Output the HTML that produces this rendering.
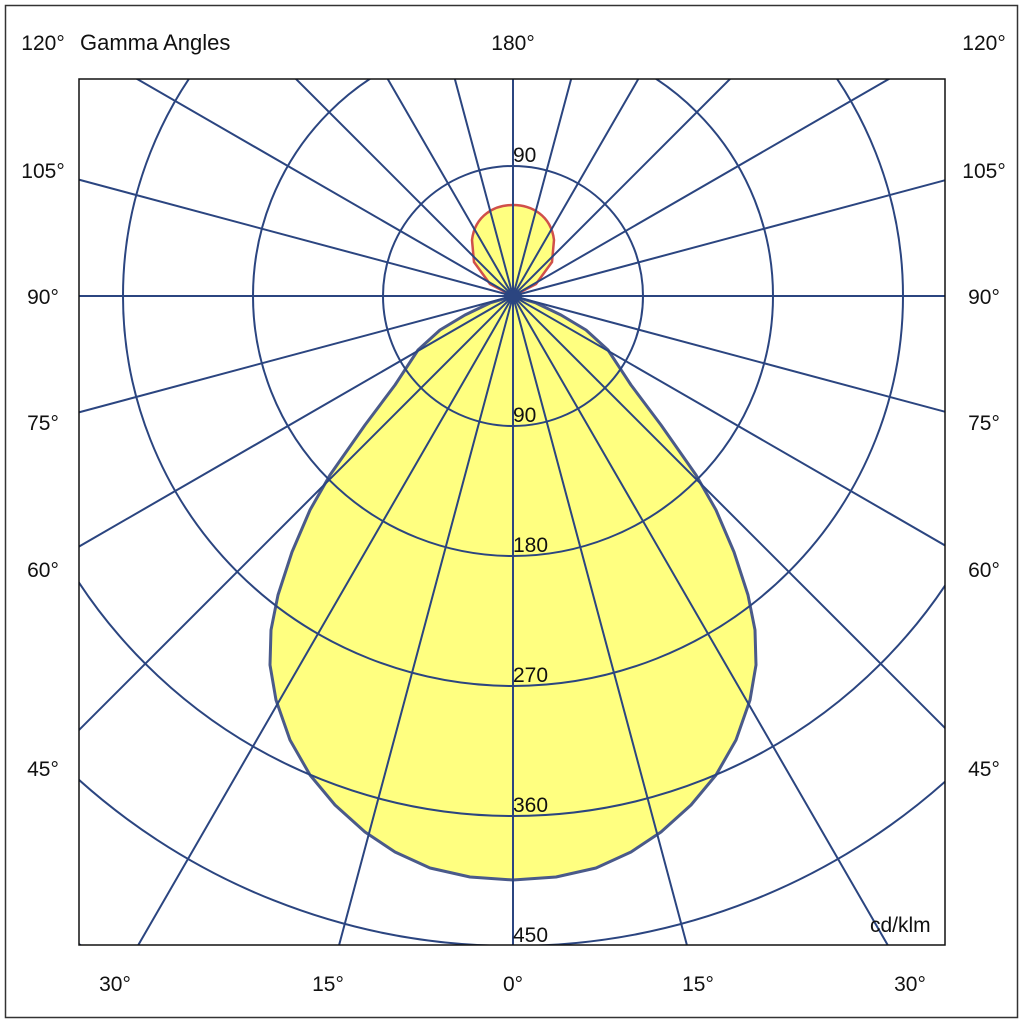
<!DOCTYPE html><html><head><style>html,body{margin:0;background:#fff;overflow:hidden;width:1024px;height:1024px}svg{display:block;overflow:hidden}text{font-family:"Liberation Sans",sans-serif;font-size:21px;fill:#111}</style></head><body>
<svg width="1024" height="1024" viewBox="0 0 1024 1024">
<rect x="0" y="0" width="1024" height="1024" fill="#fff"/>
<rect x="5.5" y="5.5" width="1012" height="1012" fill="none" stroke="#333" stroke-width="1.5"/>
<defs><clipPath id="c"><rect x="79" y="79" width="866" height="866"/></clipPath></defs>
<g clip-path="url(#c)">
<rect x="79" y="79" width="866" height="866" fill="#fff"/>
<path d="M513,296 L490,303 L465,315 L440,330 L418,350 L395,385 L365,425 L330,475 L310,510 L292,552 L278,595 L271,630 L270,665 L276,700 L290,740 L310,775 L335,805 L365,832 L395,852 L430,868 L470,877 L513,880 L556,877 L596,868 L631,852 L661,832 L691,805 L716,775 L736,740 L750,700 L756,665 L755,630 L748,595 L734,552 L716,510 L696,475 L661,425 L631,385 L608,350 L586,330 L561,315 L536,303 Z" fill="#ffff80" stroke="#4a5a8a" stroke-width="3" stroke-linejoin="round"/>
<path d="M513,296 L490,284 L474,262 L472,240 C475,215 495,205 513,205 C531,205 551,215 554,240 L552,262 L536,284 Z" fill="#ffff80" stroke="#d0504a" stroke-width="2.5"/>
<g fill="none" stroke="#2b4580" stroke-width="2">
<circle cx="513" cy="296" r="130"/><circle cx="513" cy="296" r="260"/><circle cx="513" cy="296" r="390"/><circle cx="513" cy="296" r="520"/><circle cx="513" cy="296" r="650"/><circle cx="513" cy="296" r="780"/>
<g id="r"><line x1="513" y1="-494" x2="513" y2="1086"/></g>
<use href="#r" transform="rotate(15 513 296)"/><use href="#r" transform="rotate(30 513 296)"/><use href="#r" transform="rotate(45 513 296)"/><use href="#r" transform="rotate(60 513 296)"/><use href="#r" transform="rotate(75 513 296)"/><use href="#r" transform="rotate(90 513 296)"/><use href="#r" transform="rotate(105 513 296)"/><use href="#r" transform="rotate(120 513 296)"/><use href="#r" transform="rotate(135 513 296)"/><use href="#r" transform="rotate(150 513 296)"/><use href="#r" transform="rotate(165 513 296)"/>
</g>
<ellipse cx="513" cy="296" rx="9" ry="6" fill="#2b4580"/>
</g>
<rect x="79" y="79" width="866" height="866" fill="none" stroke="#111" stroke-width="1.5"/>
<text x="513" y="162">90</text><text x="513" y="422">90</text><text x="513" y="552">180</text><text x="513" y="682">270</text><text x="513" y="812">360</text><text x="513" y="942">450</text>
<text x="870" y="932">cd/klm</text>
<text x="80" y="50" style="font-size:22px">Gamma Angles</text>
<g text-anchor="middle" style="font-size:22px"><text x="513" y="50">180°</text>
<text x="43" y="50">120°</text><text x="43" y="178">105°</text><text x="43" y="304">90°</text><text x="43" y="430">75°</text><text x="43" y="577">60°</text><text x="43" y="776">45°</text>
<text x="984" y="50">120°</text><text x="984" y="178">105°</text><text x="984" y="304">90°</text><text x="984" y="430">75°</text><text x="984" y="577">60°</text><text x="984" y="776">45°</text>
<text x="115" y="991">30°</text><text x="328" y="991">15°</text><text x="513" y="991">0°</text><text x="698" y="991">15°</text><text x="910" y="991">30°</text></g>
</svg></body></html>
